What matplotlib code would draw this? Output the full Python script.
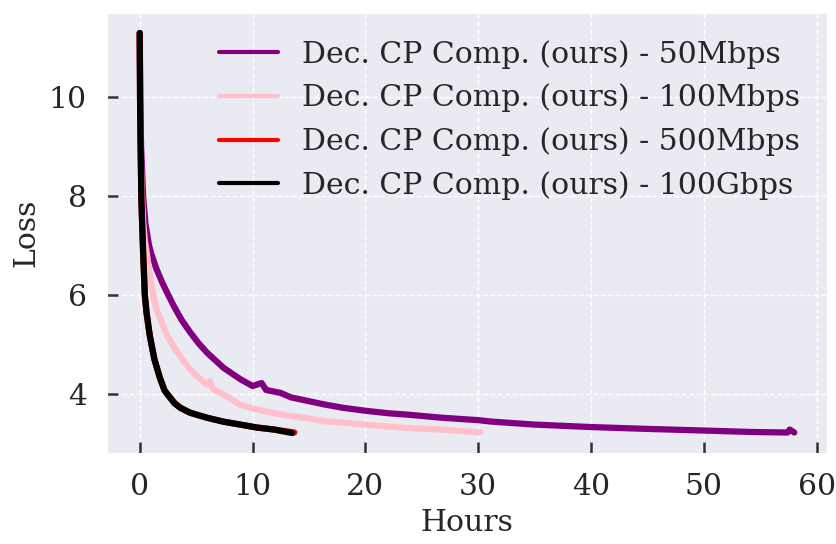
import matplotlib
matplotlib.use("Agg")
import matplotlib.pyplot as plt
import seaborn as sns
from matplotlib.lines import Line2D

sns.set_style("darkgrid", {"grid.linestyle": "--"})
plt.rcParams["font.family"] = ["DejaVu Serif"]

# ---- data ----
hours_50m = [0, 0.05, 0.12, 0.3, 0.5, 0.83, 1.0, 1.48, 2.0, 2.4, 2.97, 3.7, 4.46, 5.2, 5.94, 7.42,
             8.9, 10.0, 10.8, 11.2, 12.5, 13.4, 14.86, 16.3, 18, 20, 22, 23.8, 26.7, 30, 31.2,
             35, 40, 45.4, 50, 54.3, 57.4, 57.6, 58]
loss_50m = [11.3, 10.0, 9.0, 8.0, 7.45, 7.0, 6.85, 6.53, 6.25, 6.06, 5.8, 5.5, 5.25, 5.03, 4.84, 4.53,
            4.30, 4.16, 4.22, 4.08, 4.02, 3.93, 3.86, 3.79, 3.72, 3.66, 3.61, 3.58, 3.52, 3.47, 3.44,
            3.38, 3.33, 3.29, 3.26, 3.23, 3.22, 3.28, 3.22]

hours_100m = [0, 0.05, 0.1, 0.2, 0.3, 0.45, 0.65, 0.9, 1.19, 1.5, 1.84, 2.4, 2.97, 3.7, 4.46,
              5.2, 5.94, 6.2, 6.5, 7.42, 8.9, 10, 11.5, 13.4, 14.86, 16.3, 18, 20, 22, 23.8,
              26.7, 28.5, 30.2]
loss_100m = [11.3, 9.8, 8.7, 8.0, 7.5, 7.1, 6.8, 6.4, 6.0, 5.7, 5.51, 5.2, 4.97, 4.72, 4.50,
             4.33, 4.19, 4.26, 4.10, 3.99, 3.78, 3.71, 3.63, 3.55, 3.51, 3.45, 3.42, 3.38, 3.34, 3.31,
             3.28, 3.25, 3.22]

hours_500m = [0, 0.03, 0.08, 0.15, 0.3, 0.45, 0.6, 0.89, 1.3, 1.78, 2.2, 2.67, 3.1, 3.6, 4.46,
              5.94, 7.4, 8.9, 10.4, 11.9, 13.7]
loss_500m = [11.3, 10.0, 9.0, 7.89, 6.87, 6.0, 5.65, 5.18, 4.70, 4.33, 4.07, 3.93, 3.81, 3.72, 3.62,
             3.52, 3.44, 3.38, 3.32, 3.28, 3.22]

hours_100g = [0, 0.03, 0.08, 0.15, 0.3, 0.45, 0.6, 0.89, 1.3, 1.78, 2.2, 2.67, 3.1, 3.6, 4.46,
              5.94, 7.4, 8.9, 10.4, 11.9, 13.5]
loss_100g = [11.3, 10.0, 9.0, 7.89, 6.87, 6.0, 5.65, 5.18, 4.70, 4.33, 4.07, 3.93, 3.81, 3.72, 3.62,
             3.52, 3.44, 3.38, 3.32, 3.28, 3.21]

labels = ["Dec. CP Comp. (ours) - 50Mbps", "Dec. CP Comp. (ours) - 100Mbps",
          "Dec. CP Comp. (ours) - 500Mbps", "Dec. CP Comp. (ours) - 100Gbps"]
colors = ["purple", "pink", "red", "black"]

FS = 21.5
fig = plt.figure(figsize=(8.37, 5.44), dpi=100)
ax = fig.add_axes([107 / 837, 1 - 453 / 544, 720 / 837, 440 / 544])

series = [(hours_50m, loss_50m), (hours_100m, loss_100m), (hours_500m, loss_500m), (hours_100g, loss_100g)]
for (h, l), c, lab in zip(series, colors, labels):
    ax.plot(h, l, color=c, lw=4.5, label=lab, solid_joinstyle="round", solid_capstyle="round")

ax.set_xticks([0, 10, 20, 30, 40, 50, 60])
ax.set_yticks([4, 6, 8, 10])
ax.tick_params(axis="both", direction="in", length=7.7, width=1.8, color="#333333",
               labelsize=FS, labelcolor="#262626", pad=14.5, bottom=True, left=True)
ax.set_xlabel("Hours", fontsize=FS, color="#262626", labelpad=6)
ax.set_ylabel("Loss", fontsize=FS, color="#262626", labelpad=6)
ax.grid(True, color="white", linestyle="--", linewidth=1)

handles = [Line2D([0], [0], color=c, lw=3) for c in colors]
ax.legend(handles, labels, loc="upper right", frameon=False, fontsize=FS)

fig.savefig("out.png", dpi=100)
